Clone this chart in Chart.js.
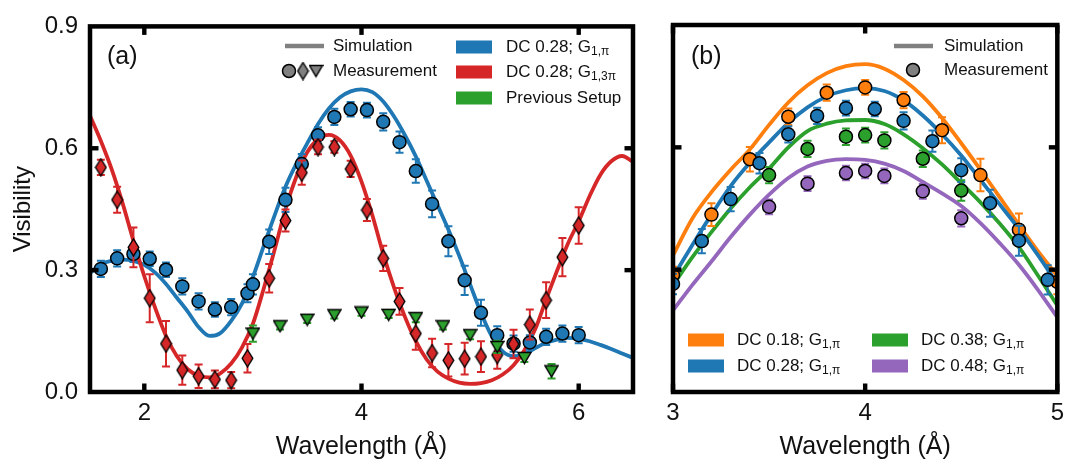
<!DOCTYPE html>
<html>
<head>
<meta charset="utf-8">
<script src="https://cdn.jsdelivr.net/npm/chart.js@4.4.0/dist/chart.umd.min.js"></script>
<style>
body { margin: 0; background: #fff; }
#wrap { position: relative; width: 1071px; height: 462px; }
#chartA { position: absolute; left: 0; top: 0; }
#chartB { position: absolute; left: 640px; top: 0; }
</style>
</head>
<body>
<div id="wrap">
  <canvas id="chartA" width="650" height="462"></canvas>
  <canvas id="chartB" width="431" height="462"></canvas>
</div>
<script>
// ---- data ----
// panel (a) measurements
const blueX = [1.6, 1.75, 1.9, 2.05, 2.2, 2.35, 2.5, 2.65, 2.8, 2.95, 3.0, 3.15, 3.3, 3.45, 3.6, 3.75, 3.9, 4.05, 4.2, 4.35, 4.5, 4.65, 4.8, 4.95, 5.1, 5.25, 5.4, 5.55, 5.7, 5.85, 6.0];
const blueY = [0.303, 0.329, 0.340, 0.328, 0.301, 0.260, 0.223, 0.203, 0.209, 0.243, 0.265, 0.370, 0.473, 0.561, 0.632, 0.677, 0.696, 0.694, 0.665, 0.615, 0.544, 0.463, 0.371, 0.275, 0.195, 0.140, 0.119, 0.122, 0.136, 0.144, 0.140];
const blueErr = [0.02, 0.02, 0.02, 0.018, 0.018, 0.02, 0.02, 0.018, 0.02, 0.022, 0.025, 0.03, 0.03, 0.025, 0.02, 0.02, 0.018, 0.018, 0.021, 0.026, 0.029, 0.033, 0.037, 0.036, 0.032, 0.022, 0.02, 0.018, 0.02, 0.02, 0.02];

const redX = [1.6, 1.75, 1.9, 2.05, 2.2, 2.35, 2.5, 2.65, 2.8, 2.95, 3.15, 3.3, 3.45, 3.6, 3.75, 3.9, 4.05, 4.2, 4.35, 4.5, 4.65, 4.8, 4.95, 5.1, 5.25, 5.4, 5.55, 5.7, 5.85, 6.0];
const redY = [0.553, 0.473, 0.356, 0.231, 0.119, 0.054, 0.039, 0.031, 0.029, 0.083, 0.280, 0.422, 0.540, 0.603, 0.603, 0.549, 0.448, 0.329, 0.223, 0.144, 0.096, 0.078, 0.082, 0.087, 0.091, 0.118, 0.166, 0.226, 0.332, 0.410];
const redErr = [0.019, 0.032, 0.049, 0.059, 0.056, 0.036, 0.029, 0.022, 0.02, 0.035, 0.035, 0.027, 0.03, 0.018, 0.014, 0.02, 0.027, 0.031, 0.033, 0.04, 0.035, 0.04, 0.039, 0.038, 0.034, 0.035, 0.037, 0.044, 0.047, 0.045];

const greenX = [3.0, 3.25, 3.5, 3.75, 4.0, 4.25, 4.5, 4.75, 5.0, 5.25, 5.5, 5.75];
const greenY = [0.144, 0.162, 0.178, 0.189, 0.196, 0.190, 0.182, 0.162, 0.140, 0.111, 0.084, 0.051];
const greenErr = [0.02, 0.008, 0.008, 0.008, 0.008, 0.008, 0.01, 0.008, 0.01, 0.015, 0.01, 0.018];

// panel (a) simulations
const simX = [1.5, 1.6, 1.7, 1.8, 1.9, 2.0, 2.1, 2.2, 2.3, 2.4, 2.5, 2.6, 2.7, 2.8, 2.9, 3.0, 3.1, 3.2, 3.3, 3.4, 3.5, 3.6, 3.7, 3.8, 3.9, 4.0, 4.1, 4.2, 4.3, 4.4, 4.5, 4.6, 4.7, 4.8, 4.9, 5.0, 5.1, 5.2, 5.3, 5.4, 5.5, 5.6, 5.7, 5.8, 5.9, 6.0, 6.1, 6.2, 6.3, 6.4, 6.5];
const blueSim = [0.293, 0.315, 0.323, 0.326, 0.323, 0.313, 0.294, 0.266, 0.232, 0.198, 0.160, 0.138, 0.145, 0.175, 0.218, 0.283, 0.360, 0.435, 0.505, 0.562, 0.612, 0.660, 0.698, 0.725, 0.740, 0.745, 0.738, 0.715, 0.678, 0.632, 0.580, 0.520, 0.460, 0.400, 0.335, 0.265, 0.195, 0.137, 0.100, 0.088, 0.093, 0.108, 0.121, 0.129, 0.133, 0.131, 0.125, 0.116, 0.106, 0.095, 0.084];
const redSim = [0.680, 0.618, 0.548, 0.465, 0.372, 0.285, 0.207, 0.138, 0.088, 0.056, 0.040, 0.036, 0.046, 0.070, 0.110, 0.168, 0.255, 0.350, 0.450, 0.530, 0.590, 0.622, 0.633, 0.620, 0.582, 0.518, 0.435, 0.340, 0.257, 0.185, 0.125, 0.080, 0.050, 0.033, 0.023, 0.020, 0.022, 0.029, 0.043, 0.066, 0.103, 0.155, 0.228, 0.298, 0.365, 0.420, 0.482, 0.535, 0.568, 0.581, 0.566];

// panel (b) measurements
const orangeX = [3.0, 3.2, 3.4, 3.6, 3.8, 4.0, 4.2, 4.4, 4.6, 4.8, 5.0];
const orangeY = [0.287, 0.435, 0.571, 0.675, 0.734, 0.747, 0.716, 0.642, 0.532, 0.398, 0.270];
const orangeErr = [0.02, 0.028, 0.03, 0.02, 0.02, 0.018, 0.02, 0.032, 0.04, 0.04, 0.03];
const dcX = [3.5, 3.7, 3.9, 4.0, 4.1, 4.3, 4.5];
const green2Y = [0.532, 0.596, 0.626, 0.630, 0.617, 0.572, 0.494];
const green2Err = [0.02, 0.02, 0.02, 0.018, 0.02, 0.02, 0.025];
const purpleY = [0.454, 0.511, 0.537, 0.542, 0.530, 0.492, 0.426];
const purpleErr = [0.018, 0.018, 0.018, 0.018, 0.018, 0.018, 0.02];

// panel (b) simulations
const simXb = [3.0, 3.1, 3.2, 3.3, 3.4, 3.5, 3.6, 3.7, 3.8, 3.9, 4.0, 4.1, 4.2, 4.3, 4.4, 4.5, 4.6, 4.7, 4.8, 4.9, 5.0];
const orangeSim = [0.335, 0.425, 0.490, 0.545, 0.595, 0.655, 0.710, 0.752, 0.782, 0.799, 0.804, 0.793, 0.765, 0.725, 0.672, 0.610, 0.545, 0.478, 0.410, 0.345, 0.285];
const greenSim = [0.262, 0.330, 0.392, 0.450, 0.502, 0.548, 0.600, 0.640, 0.658, 0.666, 0.667, 0.657, 0.632, 0.598, 0.558, 0.512, 0.465, 0.413, 0.355, 0.285, 0.212];
const purpleSim = [0.200, 0.262, 0.320, 0.380, 0.435, 0.484, 0.525, 0.553, 0.567, 0.571, 0.569, 0.560, 0.542, 0.515, 0.487, 0.456, 0.414, 0.365, 0.312, 0.250, 0.183];

const yTicks = [0, 0.3, 0.6, 0.9];
const xTicksA = [2, 4, 6];
const xTicksB = [3, 4, 5];

// ---- styling ----
const BLUE = '#1f77b4', RED = '#d62728', GREEN = '#2ca02c', ORANGE = '#ff7f0e', PURPLE = '#9467bd', GREY = '#808080';
const FONT = '"Liberation Sans", Arial, Helvetica, sans-serif';
const INK = '#111';

function pts(xs, ys) {
    return xs.map((x, i) => ({x: x, y: ys[i]}));
}

function diamond(fill) {
    const c = document.createElement('canvas');
    c.width = 13; c.height = 19;
    const g = c.getContext('2d');
    g.beginPath();
    g.moveTo(6.5, 1); g.lineTo(11.8, 9.5); g.lineTo(6.5, 18); g.lineTo(1.2, 9.5); g.closePath();
    g.fillStyle = fill; g.fill();
    g.lineWidth = 1.4; g.strokeStyle = '#000'; g.stroke();
    return c;
}

function triangleDown(fill) {
    const c = document.createElement('canvas');
    c.width = 15; c.height = 14;
    const g = c.getContext('2d');
    g.beginPath();
    g.moveTo(1, 1.5); g.lineTo(14, 1.5); g.lineTo(7.5, 12.5); g.closePath();
    g.fillStyle = fill; g.fill();
    g.lineWidth = 1.4; g.strokeStyle = '#000'; g.stroke();
    return c;
}

function curve(xs, ys, color, order) {
    return {
        data: pts(xs, ys), showLine: true, borderColor: color, borderWidth: 3.8,
        pointRadius: 0, cubicInterpolationMode: 'monotone', order: order, clip: 0
    };
}

function measured(xs, ys, errs, color, style, order) {
    return {
        data: pts(xs, ys), errors: errs, barColor: color, showLine: false,
        pointStyle: style, pointRadius: 6.5, pointBackgroundColor: color,
        pointBorderColor: '#000', pointBorderWidth: 1.5, order: order, clip: 0
    };
}

// error bars, drawn just below each measurement series
const errorBars = {
    id: 'errorBars',
    beforeDatasetDraw(chart, args) {
        const ds = chart.data.datasets[args.index];
        if (!ds.errors) return;
        const ctx = chart.ctx, a = chart.chartArea;
        const xs = chart.scales.x, ys = chart.scales.y;
        ctx.save();
        ctx.beginPath();
        ctx.rect(a.left, a.top, a.right - a.left, a.bottom - a.top);
        ctx.clip();
        ctx.strokeStyle = ds.barColor;
        ctx.lineWidth = 2;
        ds.data.forEach((p, i) => {
            const px = xs.getPixelForValue(p.x);
            const y1 = ys.getPixelForValue(p.y - ds.errors[i]);
            const y2 = ys.getPixelForValue(p.y + ds.errors[i]);
            ctx.beginPath();
            ctx.moveTo(px, y1); ctx.lineTo(px, y2);
            ctx.moveTo(px - 4, y1); ctx.lineTo(px + 4, y1);
            ctx.moveTo(px - 4, y2); ctx.lineTo(px + 4, y2);
            ctx.stroke();
        });
        ctx.restore();
    }
};

// thick box and inward ticks on all four sides
const frame = {
    id: 'frame',
    afterDatasetsDraw(chart, args, opts) {
        const ctx = chart.ctx, a = chart.chartArea;
        ctx.save();
        ctx.strokeStyle = '#000';
        ctx.lineWidth = 4.5;
        ctx.strokeRect(a.left, a.top, a.right - a.left, a.bottom - a.top);
        ctx.fillStyle = '#000';
        opts.xTicks.forEach(v => {
            const px = chart.scales.x.getPixelForValue(v);
            ctx.fillRect(px - 2.2, a.bottom - 8.5, 4.4, 8.5);
            ctx.fillRect(px - 2.2, a.top, 4.4, 8.5);
        });
        [0.3, 0.6].forEach(v => {
            const py = chart.scales.y.getPixelForValue(v);
            ctx.fillRect(a.left, py - 2.2, 8.5, 4.4);
            ctx.fillRect(a.right - 8.5, py - 2.2, 8.5, 4.4);
        });
        ctx.restore();
    }
};

function subLabel(ctx, x, y, main, sub) {
    ctx.font = '17px ' + FONT;
    ctx.fillText(main, x, y);
    const w = ctx.measureText(main).width;
    ctx.font = '12px ' + FONT;
    ctx.fillText(sub, x + w, y + 5);
}

function patch(ctx, x, y, color) {
    ctx.fillStyle = color;
    ctx.fillRect(x, y - 6.5, 36, 13);
    ctx.fillStyle = INK;
}

function greyLine(ctx, x, y) {
    ctx.strokeStyle = GREY;
    ctx.lineWidth = 4.5;
    ctx.beginPath(); ctx.moveTo(x, y); ctx.lineTo(x + 39, y); ctx.stroke();
}

function greyCircle(ctx, x, y) {
    ctx.beginPath(); ctx.arc(x, y, 6.5, 0, Math.PI * 2);
    ctx.fillStyle = GREY; ctx.fill();
    ctx.lineWidth = 1.5; ctx.strokeStyle = '#000'; ctx.stroke();
}

const legendA = {
    id: 'legendA',
    afterDraw(chart) {
        const ctx = chart.ctx;
        ctx.save();
        ctx.textBaseline = 'middle';
        ctx.fillStyle = INK;
        ctx.font = '25px ' + FONT;
        ctx.fillText('(a)', 107, 57);
        greyLine(ctx, 285, 46);
        greyCircle(ctx, 289, 71);
        ctx.drawImage(diamond(GREY), 303 - 6.5, 71 - 9.5);
        ctx.drawImage(triangleDown(GREY), 316 - 7.5, 71 - 7);
        ctx.fillStyle = INK;
        ctx.font = '17px ' + FONT;
        ctx.fillText('Simulation', 333, 46);
        ctx.fillText('Measurement', 333, 71);
        patch(ctx, 456, 47, BLUE);
        subLabel(ctx, 506, 47, 'DC 0.28; G', '1,π');
        patch(ctx, 456, 72, RED);
        subLabel(ctx, 506, 72, 'DC 0.28; G', '1,3π');
        patch(ctx, 456, 98, GREEN);
        ctx.font = '17px ' + FONT;
        ctx.fillText('Previous Setup', 506, 98);
        ctx.restore();
    }
};

const legendB = {
    id: 'legendB',
    afterDraw(chart) {
        const ctx = chart.ctx;
        ctx.save();
        ctx.textBaseline = 'middle';
        ctx.fillStyle = INK;
        ctx.font = '25px ' + FONT;
        ctx.fillText('(b)', 51, 57);
        greyLine(ctx, 254, 46);
        greyCircle(ctx, 273, 70);
        ctx.fillStyle = INK;
        ctx.font = '17px ' + FONT;
        ctx.fillText('Simulation', 304, 46);
        ctx.fillText('Measurement', 304, 70);
        patch(ctx, 48, 340, ORANGE);
        subLabel(ctx, 97, 340, 'DC 0.18; G', '1,π');
        patch(ctx, 48, 366, BLUE);
        subLabel(ctx, 97, 366, 'DC 0.28; G', '1,π');
        patch(ctx, 232, 340, GREEN);
        subLabel(ctx, 281, 340, 'DC 0.38; G', '1,π');
        patch(ctx, 232, 366, PURPLE);
        subLabel(ctx, 281, 366, 'DC 0.48; G', '1,π');
        ctx.restore();
    }
};

function axes(xMin, xMax, xTicks, yWidth, showY) {
    return {
        x: {
            type: 'linear', min: xMin, max: xMax,
            afterBuildTicks: s => { s.ticks = xTicks.map(v => ({value: v})); },
            afterFit: s => { s.height = 70; },
            grid: {display: false, drawTicks: false},
            border: {display: false},
            ticks: {color: INK, font: {family: FONT, size: 24}, padding: 7, callback: v => String(v), maxRotation: 0},
            title: {display: true, text: 'Wavelength (Å)', color: INK, font: {family: FONT, size: 25}, padding: {bottom: 0}}
        },
        y: {
            type: 'linear', min: 0, max: 0.9,
            afterBuildTicks: s => { s.ticks = yTicks.map(v => ({value: v})); },
            afterFit: s => { s.width = yWidth; },
            grid: {display: false, drawTicks: false},
            border: {display: false},
            ticks: {display: showY, color: INK, font: {family: FONT, size: 24}, padding: 12, callback: v => v.toFixed(1)},
            title: {display: showY, text: 'Visibility', color: INK, font: {family: FONT, size: 24}, padding: {top: 9}}
        }
    };
}

const common = {
    responsive: false,
    animation: false,
    events: [],
    plugins: {legend: {display: false}, tooltip: {enabled: false}}
};

new Chart(document.getElementById('chartA'), {
    type: 'scatter',
    data: {
        datasets: [
            curve(simX, blueSim, BLUE, 11),
            curve(simX, redSim, RED, 10),
            measured(blueX, blueY, blueErr, BLUE, 'circle', 3),
            measured(redX, redY, redErr, RED, diamond(RED), 2),
            measured(greenX, greenY, greenErr, GREEN, triangleDown(GREEN), 1)
        ]
    },
    options: Object.assign({}, common, {
        layout: {padding: {left: 0, right: 17, top: 25, bottom: 0}},
        scales: axes(1.5, 6.5, xTicksA, 90, true),
        plugins: Object.assign({}, common.plugins, {frame: {xTicks: xTicksA}})
    }),
    plugins: [errorBars, frame, legendA]
});

new Chart(document.getElementById('chartB'), {
    type: 'scatter',
    data: {
        datasets: [
            curve(simXb, orangeSim, ORANGE, 14),
            curve(simX, blueSim, BLUE, 13),
            curve(simXb, greenSim, GREEN, 12),
            curve(simXb, purpleSim, PURPLE, 11),
            measured(orangeX, orangeY, orangeErr, ORANGE, 'circle', 4),
            measured(blueX, blueY, blueErr, BLUE, 'circle', 3),
            measured(dcX, green2Y, green2Err, GREEN, 'circle', 2),
            measured(dcX, purpleY, purpleErr, PURPLE, 'circle', 1)
        ]
    },
    options: Object.assign({}, common, {
        layout: {padding: {left: 0, right: 7, top: 25, bottom: 0}},
        scales: axes(3, 5, xTicksB, 33, false),
        plugins: Object.assign({}, common.plugins, {frame: {xTicks: xTicksB}})
    }),
    plugins: [errorBars, frame, legendB]
});
</script>
</body>
</html>
